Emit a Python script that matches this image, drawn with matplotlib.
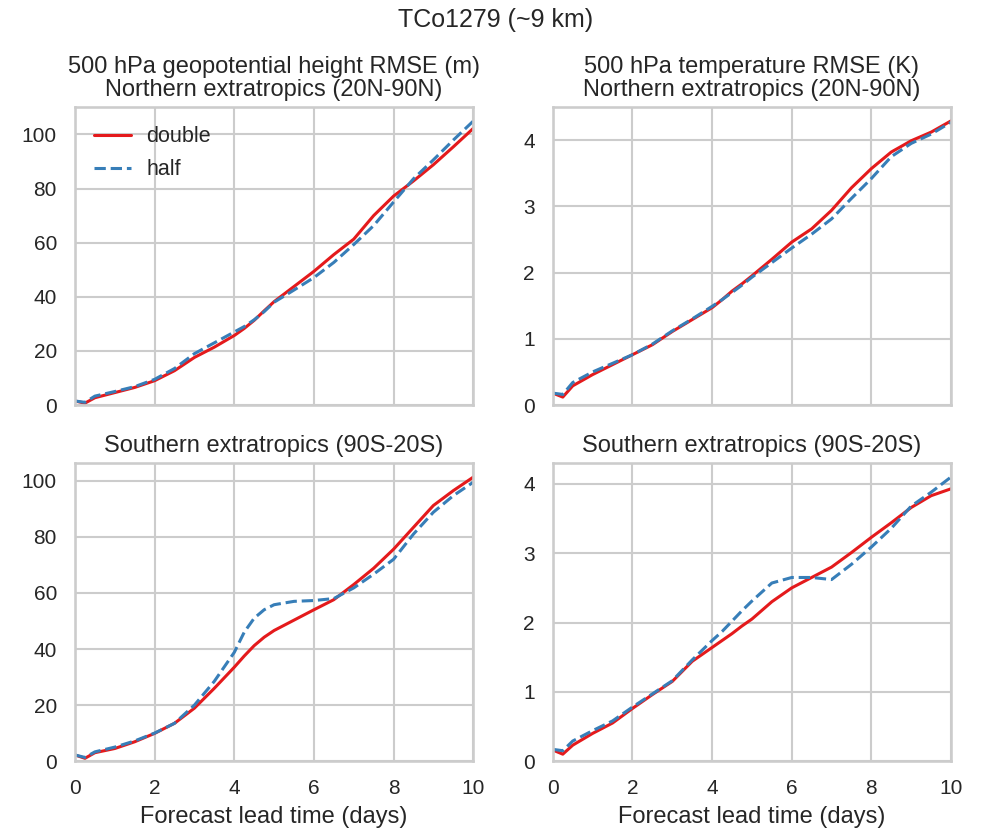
import matplotlib
matplotlib.use("Agg")
import matplotlib.pyplot as plt
import seaborn as sns

# forecast lead time (days)
days = [0, 0.25, 0.5, 1, 1.5, 2, 2.5, 3, 3.5, 4, 4.25, 4.5, 4.75, 5, 5.5, 6, 6.5, 7, 7.5, 8, 8.5, 9, 9.5, 10]

# 500 hPa geopotential height RMSE (m), northern extratropics
z500_nh_double = [1.5, 0.7, 2.7, 4.6, 6.5, 9.0, 12.7, 17.6, 21.4, 25.7, 28.3, 31.3, 34.8, 38.2, 43.8, 49.4, 55.6, 61.3, 70.0, 77.2, 82.8, 88.8, 95.4, 102.2]
z500_nh_half = [1.5, 1.0, 3.3, 5.0, 6.8, 9.5, 13.5, 19.0, 23.0, 27.0, 29.0, 31.5, 34.5, 38.0, 42.5, 47.1, 52.7, 59.3, 66.3, 75.0, 83.6, 90.6, 97.9, 104.9]

# 500 hPa temperature RMSE (K), northern extratropics
t500_nh_double = [0.18, 0.12, 0.29, 0.46, 0.61, 0.76, 0.91, 1.11, 1.29, 1.47, 1.59, 1.72, 1.83, 1.95, 2.20, 2.46, 2.66, 2.94, 3.28, 3.57, 3.82, 3.99, 4.12, 4.29]
t500_nh_half = [0.18, 0.16, 0.34, 0.50, 0.63, 0.76, 0.92, 1.12, 1.30, 1.49, 1.59, 1.70, 1.81, 1.93, 2.15, 2.37, 2.58, 2.81, 3.12, 3.42, 3.75, 3.95, 4.09, 4.27]

# southern extratropics
z500_sh_double = [2.2, 1.0, 3.0, 4.5, 6.9, 9.9, 13.5, 18.9, 26.0, 33.5, 37.5, 41.2, 44.2, 46.6, 50.3, 54.0, 57.6, 63.0, 68.8, 75.6, 83.4, 91.2, 96.5, 101.3]
z500_sh_half = [2.2, 1.3, 3.3, 5.0, 7.2, 10.0, 13.5, 20.0, 28.5, 38.8, 46.0, 51.0, 54.0, 55.8, 57.0, 57.3, 58.0, 61.8, 66.7, 72.0, 81.0, 88.8, 94.7, 99.5]

t500_sh_double = [0.16, 0.10, 0.23, 0.40, 0.55, 0.76, 0.96, 1.15, 1.44, 1.64, 1.74, 1.84, 1.95, 2.05, 2.30, 2.50, 2.65, 2.80, 3.01, 3.23, 3.44, 3.66, 3.83, 3.93]
t500_sh_half = [0.17, 0.15, 0.29, 0.44, 0.58, 0.78, 0.97, 1.16, 1.46, 1.74, 1.87, 2.02, 2.17, 2.31, 2.57, 2.65, 2.65, 2.62, 2.84, 3.09, 3.36, 3.68, 3.88, 4.10]

titles = ["500 hPa geopotential height RMSE (m)\nNorthern extratropics (20N-90N)",
          "500 hPa temperature RMSE (K)\nNorthern extratropics (20N-90N)",
          "Southern extratropics (90S-20S)",
          "Southern extratropics (90S-20S)"]

sns.set_theme(style="whitegrid", context="talk")
plt.rcParams['font.family'] = ['Liberation Sans', 'DejaVu Sans']

fig, axes = plt.subplots(2, 2, figsize=(9.92, 8.3), dpi=100, sharex=True)
fig.subplots_adjust(left=0.0756, right=0.9587, top=0.871, bottom=0.083, wspace=0.2, hspace=0.195)

panels = [(z500_nh_double, z500_nh_half), (t500_nh_double, t500_nh_half),
          (z500_sh_double, z500_sh_half), (t500_sh_double, t500_sh_half)]

red = "#e41a1c"
blue = "#377eb8"
for ax, (dbl, hlf), title in zip(axes.flat, panels, titles):
    ax.plot(days, dbl, color=red, lw=2.2, label="double")
    ax.plot(days, hlf, color=blue, lw=2.2, ls="--", label="half")
    ax.set_title(title, fontsize=17, pad=8, linespacing=1.08)
    ax.set_xlim(0, 10)
    ax.set_ylim(bottom=0)
    ax.set_xticks([0, 2, 4, 6, 8, 10])
    ax.tick_params(labelsize=15, pad=4)

for ax in axes[1]:
    ax.set_xlabel("Forecast lead time (days)", fontsize=17, labelpad=6)
axes[0, 0].set_yticks([0, 20, 40, 60, 80, 100])
axes[1, 0].set_yticks([0, 20, 40, 60, 80, 100])
axes[0, 1].set_yticks([0, 1, 2, 3, 4])
axes[1, 1].set_yticks([0, 1, 2, 3, 4])

axes[0, 0].legend(loc="upper left", frameon=False, fontsize=15.5, handlelength=1.7,
                  handletextpad=0.7, labelspacing=0.55)
fig.suptitle("TCo1279 (~9 km)", fontsize=18, y=0.99)

fig.savefig("out.png", dpi=100)
